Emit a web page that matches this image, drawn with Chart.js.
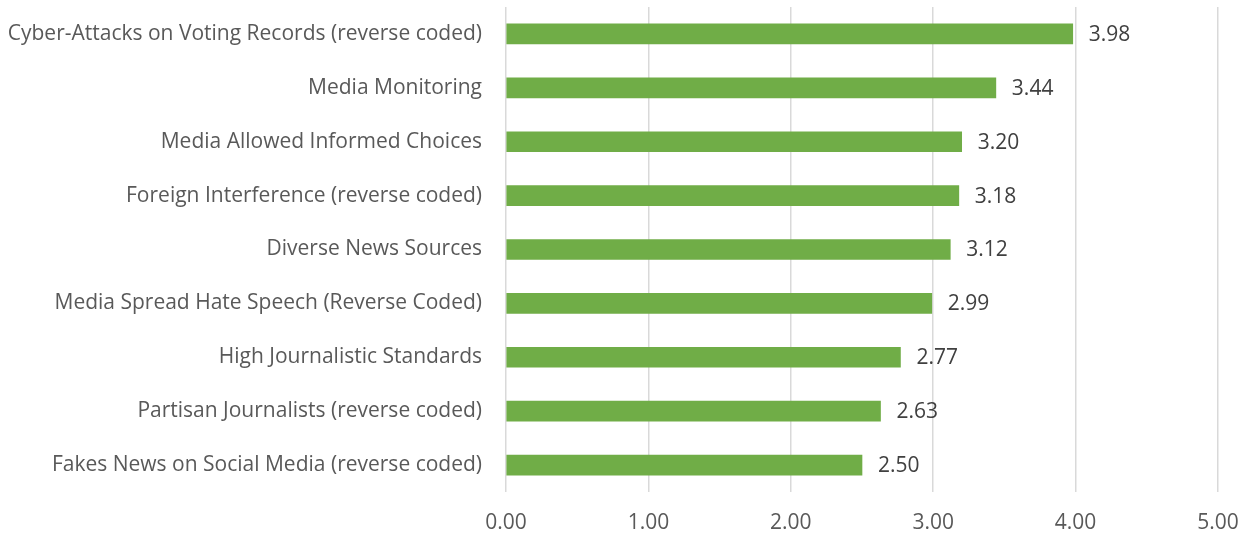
<!DOCTYPE html>
<html>
<head>
<meta charset="utf-8">
<script src="https://cdn.jsdelivr.net/npm/chart.js@4"></script>
<style>
  html, body { margin: 0; padding: 0; background: #fff; }
  #wrap { width: 1252px; height: 539px; }
</style>
</head>
<body>
<div id="wrap"><canvas id="grafico" width="1252" height="539"></canvas></div>
<script>
// categorias y valores (de arriba hacia abajo)
const categorias = [
  "Cyber-Attacks on Voting Records (reverse coded)",
  "Media Monitoring",
  "Media Allowed Informed Choices",
  "Foreign Interference (reverse coded)",
  "Diverse News Sources",
  "Media Spread Hate Speech (Reverse Coded)",
  "High Journalistic Standards",
  "Partisan Journalists (reverse coded)",
  "Fakes News on Social Media (reverse coded)"
];
const valores = [3.98, 3.44, 3.20, 3.18, 3.12, 2.99, 2.77, 2.63, 2.50];
const ejeMin = 0;
const ejeMax = 5;
const ejePaso = 1;

const fuente = "'Open Sans', sans-serif";
const tam = 21;

// etiquetas de valor al final de cada barra
const etiquetasValor = {
  id: "etiquetasValor",
  afterDatasetsDraw(chart) {
    const ctx = chart.ctx;
    const meta = chart.getDatasetMeta(0);
    ctx.save();
    ctx.font = tam + "px " + fuente;
    ctx.fillStyle = "#404040";
    ctx.textAlign = "left";
    ctx.textBaseline = "middle";
    meta.data.forEach((bar, i) => {
      ctx.fillText(valores[i].toFixed(2), bar.x + 16, bar.y + 1);
    });
    ctx.restore();
  }
};

new Chart(document.getElementById("grafico"), {
  type: "bar",
  data: {
    labels: categorias,
    datasets: [{
      data: valores,
      backgroundColor: "#70AD47",
      barThickness: 20
    }]
  },
  options: {
    indexAxis: "y",
    responsive: false,
    animation: false,
    layout: { padding: { top: 7, right: 34, left: 0, bottom: 0 } },
    plugins: { legend: { display: false }, tooltip: { enabled: false } },
    scales: {
      x: {
        min: ejeMin,
        max: ejeMax,
        ticks: {
          stepSize: ejePaso,
          padding: 18,
          color: "#595959",
          font: { family: fuente, size: tam },
          callback: (v) => Number(v).toFixed(2)
        },
        grid: { color: "#d9d9d9", lineWidth: 1.5, drawTicks: false },
        border: { display: false },
        afterFit: (s) => {
          s.height = 47;
          s.paddingLeft = 0;
          s.paddingRight = 0;
        }
      },
      y: {
        ticks: {
          padding: 24,
          color: "#595959",
          font: { family: fuente, size: tam }
        },
        grid: { display: false, drawTicks: false },
        border: { display: false },
        afterFit: (s) => {
          s.width = 506;
          // sin relleno extra arriba/abajo por las etiquetas
          s.paddingTop = 0;
          s.paddingBottom = 0;
        }
      }
    }
  },
  plugins: [etiquetasValor]
});
</script>
</body>
</html>
